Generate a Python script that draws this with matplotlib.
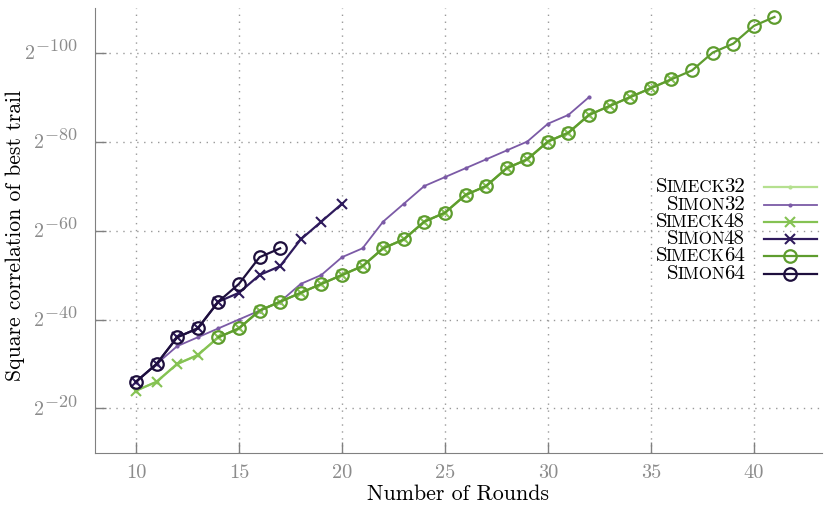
import matplotlib
matplotlib.use('Agg')
import matplotlib.pyplot as plt
from matplotlib.lines import Line2D
from matplotlib.offsetbox import TextArea, DrawingArea, HPacker, VPacker, AnchoredOffsetbox

plt.rcParams['font.family'] = 'serif'
plt.rcParams['font.serif'] = ['cmr10']
plt.rcParams['mathtext.fontset'] = 'cm'
plt.rcParams['axes.unicode_minus'] = False

# -log2 of the squared correlation of the best linear trail, per round count
simeck32_rounds = list(range(10, 33))
simeck32 = [24, 26, 30, 32, 36, 38, 42, 44, 46, 48, 50, 52, 56, 58, 62, 64,
            68, 70, 74, 76, 80, 82, 86]
simon32_rounds = list(range(10, 33))
simon32 = [26, 30, 34, 36, 38, 40, 42, 44, 48, 50, 54, 56, 62, 66, 70, 72,
           74, 76, 78, 80, 84, 86, 90]
simeck48_rounds = list(range(10, 37))
simeck48 = [24, 26, 30, 32, 36, 38, 42, 44, 46, 48, 50, 52, 56, 58, 62, 64,
            68, 70, 74, 76, 80, 82, 86, 88, 90, 92, 94]
simon48_rounds = list(range(10, 21))
simon48 = [26, 30, 36, 38, 44, 46, 50, 52, 58, 62, 66]
simeck64_rounds = list(range(14, 42))
simeck64 = [36, 38, 42, 44, 46, 48, 50, 52, 56, 58, 62, 64, 68, 70, 74, 76,
            80, 82, 86, 88, 90, 92, 94, 96, 100, 102, 106, 108]
simon64_rounds = list(range(10, 18))
simon64 = [26, 30, 36, 38, 44, 48, 54, 56]

y_ticks = [20, 40, 60, 80, 100]
x_ticks = [10, 15, 20, 25, 30, 35, 40]

GREY = '#8c8c8c'

# (name prefix, small-caps part, suffix) -> style
series = [
    (('S', 'IMECK', '32'), simeck32_rounds, simeck32,
     dict(color='#b5e08f', marker='.', ms=4, lw=1.6)),
    (('S', 'IMON', '32'), simon32_rounds, simon32,
     dict(color='#7b5aa6', marker='.', ms=4, lw=1.3)),
    (('S', 'IMECK', '48'), simeck48_rounds, simeck48,
     dict(color='#85c253', marker='x', ms=7, mew=1.5, lw=1.6)),
    (('S', 'IMON', '48'), simon48_rounds, simon48,
     dict(color='#2e1a5c', marker='x', ms=7, mew=1.5, lw=1.6)),
    (('S', 'IMECK', '64'), simeck64_rounds, simeck64,
     dict(color='#5e9c2e', marker='o', ms=9, mew=1.6, mfc='none', lw=1.6)),
    (('S', 'IMON', '64'), simon64_rounds, simon64,
     dict(color='#1e0f3d', marker='o', ms=9, mew=1.6, mfc='none', lw=1.6)),
]

fig = plt.figure(figsize=(8.31, 5.05), dpi=100)
ax = fig.add_axes([0.114, 0.103, 0.875, 0.881])

for _, xs, ys, style in series:
    ax.plot(xs, ys, **style)

ax.set_xlim(8, 43.3)
ax.set_ylim(10, 110)
ax.set_xticks(x_ticks)
ax.set_xticklabels([str(t) for t in x_ticks])
ax.set_yticks(y_ticks)
ax.grid(True, linestyle=(0, (1, 4)), color='#999999', linewidth=1.0)
ax.set_axisbelow(True)
for side in ('top', 'right'):
    ax.spines[side].set_visible(False)
for side in ('left', 'bottom'):
    ax.spines[side].set_color('#808080')
ax.tick_params(direction='in', length=8, width=1, color='#808080',
               labelcolor=GREY, pad=8)
ax.tick_params(axis='x', labelsize=14.7)
ax.tick_params(axis='y', labelleft=False)

# y tick labels as 2^-n, exponent drawn a little larger than mathtext would
for t in y_ticks:
    exp = ax.annotate(r'$-%d$' % t, xy=(0, t), xycoords=('axes fraction', 'data'),
                      xytext=(-12.2, 4.6), textcoords='offset points',
                      ha='right', va='center', fontsize=13, color=GREY)
    ax.annotate('2', xy=(0, t), xycoords=(exp, 'data'),
                xytext=(-0.5, -1.2), textcoords='offset points',
                ha='right', va='center', fontsize=14.5, color=GREY)

ax.set_xlabel('Number of Rounds', fontsize=15.8)
ax.set_ylabel('Square correlation of best trail', fontsize=15.6)
ax.xaxis.set_label_coords(0.5, -0.07)
ax.yaxis.set_label_coords(-0.0963, 0.488)

# legend with small-caps labels, text on the left and the line sample on the right
rows = []
for (first, small, suffix), _, _, style in series:
    label = HPacker(children=[TextArea(first, textprops=dict(fontsize=15)),
                              TextArea(small, textprops=dict(fontsize=12.2)),
                              TextArea(suffix, textprops=dict(fontsize=15))],
                    align='baseline', pad=0, sep=-0.8)
    w, h = 38, 10
    da = DrawingArea(w, h, 0, 0)
    da.add_artist(Line2D([0, w], [h / 2, h / 2], color=style['color'], lw=style['lw']))
    da.add_artist(Line2D([w / 2], [h / 2], color=style['color'], lw=0,
                         marker=style['marker'], ms=style['ms'],
                         mew=style.get('mew', 1), mfc=style.get('mfc', style['color'])))
    rows.append(HPacker(children=[label, da], align='center', pad=0, sep=14))
legend = AnchoredOffsetbox(loc='center right',
                           child=VPacker(children=rows, align='right', pad=0, sep=-0.5),
                           pad=0, borderpad=0, frameon=False,
                           bbox_to_anchor=(0.993, 0.5), bbox_transform=ax.transAxes)
ax.add_artist(legend)

fig.savefig('out.png', dpi=100)
